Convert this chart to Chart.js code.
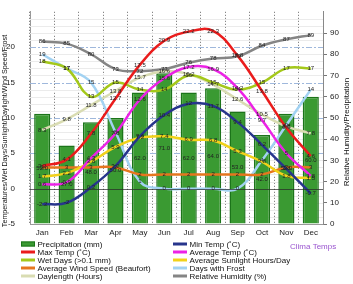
<!DOCTYPE html>
<html>
<head>
<meta charset="utf-8">
<script src="https://cdn.jsdelivr.net/npm/chart.js@4.4.1/dist/chart.umd.min.js"></script>
<style>
    body { margin: 0; background: #fff; }
    canvas { display: block; }
</style>
</head>
<body>
<canvas id="climate-chart" width="353" height="284"></canvas>
<script>
const months = ['Jan', 'Feb', 'Mar', 'Apr', 'May', 'Jun', 'Jul', 'Aug', 'Sep', 'Oct', 'Nov', 'Dec'];
const precipitation = [52, 37, 48, 50, 62, 71, 62, 64, 53, 42, 52, 60];
const maxTemp = [3.2, 4.1, 7.8, 12.7, 17.5, 20.9, 22.2, 22.3, 18.8, 13.8, 8.6, 4.6];
const minTemp = [-2.2, -2, 0.2, 3.2, 7.4, 10.4, 12, 11.7, 9.4, 6.2, 2.8, -0.7];
const avgTemp = [0.6, 0.9, 4.3, 7.8, 12.6, 15.6, 17.2, 16.9, 14.2, 9.7, 5.0, 1.8];
const wetDays = [18, 17, 13, 15, 14, 14, 16, 15, 14, 15, 17, 17];
const sunlight = [1.7, 2.2, 3.8, 5.9, 7.2, 7.4, 6.9, 6.8, 5.3, 3.8, 1.8, 1.5];
const windSpeed = [3, 3, 3, 3, 2, 2, 2, 2, 2, 2, 3, 3];
const frostDays = [19, 17, 15, 8, 1, 0, 0, 0, 0, 4, 9, 14];
const daylength = [8.3, 9.8, 11.8, 13.8, 15.7, 16.6, 16.2, 14.7, 12.6, 10.5, 8.8, 7.8];
const humidity = [86, 85, 80, 73, 72, 73, 76, 78, 79, 84, 87, 89];

const FONT = 'Liberation Sans, Arial, sans-serif';

function lineSet(label, data, color, axis) {
    return {
        type: 'line',
        label: label,
        data: data,
        borderColor: color,
        backgroundColor: color,
        borderWidth: 2.5,
        pointRadius: 0,
        tension: 0.4,
        fill: false,
        yAxisID: axis || 'y'
    };
}

// legend columns, same order as the picture
const legendCols = [
    ['Precipitation (mm)', 'Max Temp (˚C)', 'Wet Days (>0.1 mm)', 'Average Wind Speed (Beaufort)', 'Daylength (Hours)'],
    ['Min Temp (˚C)', 'Average Temp (˚C)', 'Average Sunlight Hours/Day', 'Days with Frost', 'Relative Humidity (%)']
];

// grid of the left axis: light minor lines, dash-dot major lines, dark zero line
const gridPlugin = {
    id: 'leftGrid',
    beforeDatasetsDraw(chart) {
        const ctx = chart.ctx;
        const area = chart.chartArea;
        const y = chart.scales.y;
        ctx.save();
        ctx.lineWidth = 1;
        for (let v = y.min + 1; v < y.max; v++) {
            if (v % 5 === 0) continue;
            const py = Math.round(y.getPixelForValue(v)) + 0.5;
            ctx.strokeStyle = '#ebebeb';
            ctx.beginPath();
            ctx.moveTo(area.left, py);
            ctx.lineTo(area.right, py);
            ctx.stroke();
        }
        ctx.setLineDash([6, 2, 2, 2]);
        ctx.strokeStyle = '#9fb8dc';
        y.ticks.forEach(t => {
            if (t.value === 0 || t.value === y.min) return;
            const py = Math.round(y.getPixelForValue(t.value)) + 0.5;
            ctx.beginPath();
            ctx.moveTo(area.left, py);
            ctx.lineTo(area.right, py);
            ctx.stroke();
        });
        ctx.restore();
    },
    afterDatasetsDraw(chart) {
        const ctx = chart.ctx;
        const area = chart.chartArea;
        const py = Math.round(chart.scales.y.getPixelForValue(0)) + 0.5;
        ctx.save();
        ctx.strokeStyle = 'rgba(40,40,40,0.7)';
        ctx.lineWidth = 1;
        ctx.beginPath();
        ctx.moveTo(area.left, py);
        ctx.lineTo(area.right, py);
        ctx.stroke();
        ctx.restore();
    }
};

// small value labels on every bar and line point
const valueLabels = {
    id: 'valueLabels',
    afterDatasetsDraw(chart) {
        const ctx = chart.ctx;
        ctx.save();
        ctx.font = '6px ' + FONT;
        ctx.fillStyle = '#222';
        ctx.textAlign = 'center';
        ctx.textBaseline = 'middle';
        chart.data.datasets.forEach((ds, i) => {
            const meta = chart.getDatasetMeta(i);
            meta.data.forEach((el, j) => {
                const v = ds.data[j];
                if (ds.type === 'line') {
                    ctx.fillText(String(v), el.x, el.y);
                } else {
                    ctx.fillText(v.toFixed(1), el.x, (el.y + el.base) / 2);
                }
            });
        });
        ctx.restore();
    }
};

// axis titles, legend and credit
const extrasPlugin = {
    id: 'extras',
    afterDraw(chart) {
        const ctx = chart.ctx;
        ctx.save();
        ctx.fillStyle = '#111';
        ctx.textAlign = 'center';
        ctx.textBaseline = 'middle';

        ctx.save();
        ctx.font = '7.2px ' + FONT;
        ctx.translate(5, 131);
        ctx.rotate(-Math.PI / 2);
        ctx.fillText('Temperatures/Wet Days/Sunlight/Daylight/Wind Speed/Frost', 0, 0);
        ctx.restore();

        ctx.save();
        ctx.font = '8px ' + FONT;
        ctx.translate(347, 132);
        ctx.rotate(-Math.PI / 2);
        ctx.fillText('Relative Humidity/Precipitation', 0, 0);
        ctx.restore();

        ctx.font = '8px ' + FONT;
        const top = chart.chartArea.bottom + 20;
        const colX = [21, 173];
        ctx.textAlign = 'left';
        legendCols.forEach((col, c) => {
            col.forEach((name, r) => {
                const ds = chart.data.datasets.find(d => d.label === name);
                const y = top + r * 8;
                const x = colX[c];
                if (ds.type === 'line') {
                    ctx.strokeStyle = ds.borderColor;
                    ctx.lineWidth = 3;
                    ctx.beginPath();
                    ctx.moveTo(x, y);
                    ctx.lineTo(x + 14, y);
                    ctx.stroke();
                } else {
                    ctx.fillStyle = ds.backgroundColor;
                    ctx.fillRect(x, y - 2.5, 14, 5);
                    ctx.strokeStyle = ds.borderColor;
                    ctx.lineWidth = 1;
                    ctx.strokeRect(x + 0.5, y - 2, 13, 4);
                }
                ctx.fillStyle = '#111';
                ctx.fillText(name, x + 16.5, y + 0.5);
            });
        });
        ctx.fillStyle = '#9a55cf';
        ctx.fillText('Clima Temps', 290, top + 2.5);
        ctx.restore();
    }
};

const ctx = document.getElementById('climate-chart').getContext('2d');
new Chart(ctx, {
    type: 'bar',
    data: {
        labels: months,
        datasets: [
            lineSet('Max Temp (˚C)', maxTemp, '#ea1c1c'),
            lineSet('Min Temp (˚C)', minTemp, '#27358c'),
            lineSet('Average Temp (˚C)', avgTemp, '#ec22e6'),
            lineSet('Wet Days (>0.1 mm)', wetDays, '#a4c81a'),
            lineSet('Average Sunlight Hours/Day', sunlight, '#f2d21a'),
            lineSet('Average Wind Speed (Beaufort)', windSpeed, '#e6761e'),
            lineSet('Days with Frost', frostDays, '#a2d2f2'),
            lineSet('Daylength (Hours)', daylength, '#d9dcb2'),
            lineSet('Relative Humidity (%)', humidity, '#858585', 'y1'),
            {
                type: 'bar',
                label: 'Precipitation (mm)',
                data: precipitation,
                backgroundColor: '#3a9a32',
                borderColor: '#1c741a',
                borderWidth: 1.5,
                barPercentage: 0.66,
                categoryPercentage: 1,
                yAxisID: 'y1'
            }
        ]
    },
    options: {
        responsive: false,
        animation: false,
        devicePixelRatio: 1,
        layout: { padding: { top: 0, right: 0, bottom: 44, left: 0 } },
        plugins: {
            legend: { display: false },
            tooltip: { enabled: false }
        },
        scales: {
            x: {
                afterFit: scale => { scale.height = 16; },
                grid: { color: '#6a6a6a', offset: true, drawTicks: false },
                border: { display: true, color: '#999', dash: [1, 2] },
                ticks: { color: '#222', font: { family: FONT, size: 8 }, padding: 4 }
            },
            y: {
                position: 'left',
                min: -5,
                max: 25,
                afterFit: scale => { scale.width = 30; },
                afterBuildTicks: scale => { scale.ticks = scale.ticks.filter(t => t.value < 25); },
                ticks: {
                    stepSize: 5,
                    color: '#222',
                    font: { family: FONT, size: 8 },
                    padding: 7
                },
                grid: { display: false },
                border: { display: true, color: '#999' }
            },
            y1: {
                position: 'right',
                min: 0,
                max: 100,
                afterFit: scale => { scale.width = 30; },
                afterBuildTicks: scale => { scale.ticks = scale.ticks.filter(t => t.value < 100); },
                ticks: {
                    stepSize: 10,
                    color: '#222',
                    font: { family: FONT, size: 8 },
                    padding: 3
                },
                grid: { drawOnChartArea: false, tickLength: 4, tickColor: '#777' },
                border: { display: true, color: '#888' }
            }
        }
    },
    plugins: [gridPlugin, valueLabels, extrasPlugin]
});
</script>
</body>
</html>
